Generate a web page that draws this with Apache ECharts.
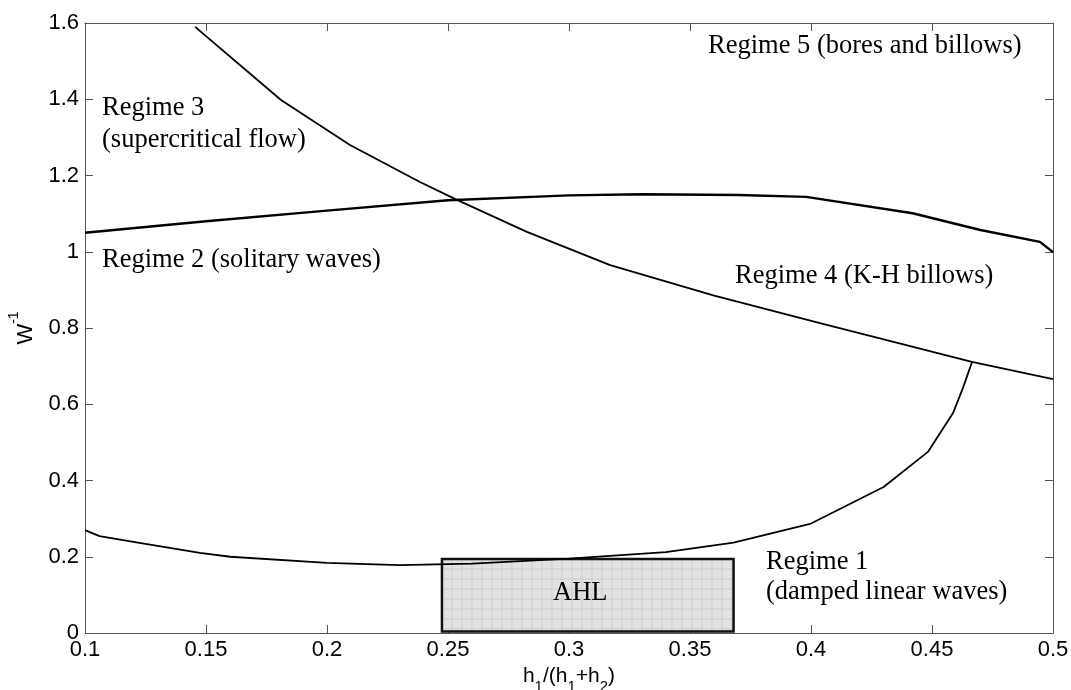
<!DOCTYPE html>
<html>
<head>
<meta charset="utf-8">
<script src="https://cdn.jsdelivr.net/npm/echarts@6/dist/echarts.min.js"></script>
<style>
  html, body { margin: 0; padding: 0; background: #fff; }
  #chart { width: 1071px; height: 690px; }
</style>
</head>
<body>
<div id="chart"></div>
<script>
// regime boundaries
const upperX = [0.1, 0.15, 0.2, 0.25, 0.3, 0.33, 0.37, 0.398, 0.442, 0.47, 0.4946, 0.5];
const upperY = [1.05, 1.08, 1.108, 1.135, 1.148, 1.151, 1.149, 1.144, 1.101, 1.057, 1.026, 0.999];

const fallX = [0.1455, 0.181, 0.2095, 0.2384, 0.2537, 0.2826, 0.317, 0.36, 0.4037, 0.4665, 0.5];
const fallY = [1.59, 1.398, 1.28, 1.183, 1.136, 1.052, 0.965, 0.885, 0.813, 0.711, 0.666];

const lowerX = [0.1, 0.106, 0.12, 0.1475, 0.16, 0.2, 0.23, 0.26, 0.3, 0.34, 0.368, 0.3996, 0.43, 0.4483, 0.4587, 0.4628, 0.4665];
const lowerY = [0.27, 0.254, 0.239, 0.21, 0.2, 0.184, 0.178, 0.182, 0.195, 0.212, 0.237, 0.286, 0.383, 0.475, 0.577, 0.643, 0.71];

// AHL box (x range, y range)
const ahlX = [0.2475, 0.368];
const ahlY = [0.004, 0.194];

const xTicks = [0.1, 0.5, 0.05];
const yTicks = [0, 1.6, 0.2];

function pairs(xs, ys) {
    return xs.map(function (x, i) { return [x, ys[i]]; });
}

const sans = 'Liberation Sans, Arial, sans-serif';
const serif = 'Liberation Serif, Times New Roman, serif';

function lineSeries(xs, ys, w) {
    return {
        type: 'line',
        data: pairs(xs, ys),
        showSymbol: false,
        symbol: 'none',
        lineStyle: { color: '#000', width: w },
        z: 5
    };
}

const chart = echarts.init(document.getElementById('chart'));

const axisCommon = {
    type: 'value',
    splitLine: { show: false },
    axisLine: { show: true, onZero: false, lineStyle: { color: '#555', width: 1 } },
    axisTick: { show: true, inside: true, length: 8, lineStyle: { color: '#555' } }
};

chart.setOption({
    animation: false,
    grid: { left: 85, right: 18, top: 23, bottom: 57, containLabel: false, outerBoundsMode: 'none' },
    xAxis: [
        Object.assign({}, axisCommon, {
            min: xTicks[0], max: xTicks[1], interval: xTicks[2],
            position: 'bottom',
            name: '{t|h}{s|1}{t|/(h}{s|1}{t|+h}{s|2}{t|)}',
            nameLocation: 'middle',
            nameGap: 30,
            nameTextStyle: {
                rich: {
                    t: { fontFamily: sans, fontSize: 21, color: '#000', lineHeight: 28, verticalAlign: 'top' },
                    s: { fontFamily: sans, fontSize: 15, color: '#000', lineHeight: 28, verticalAlign: 'bottom' }
                }
            },
            axisLabel: {
                margin: 6,
                fontFamily: sans, fontSize: 22, color: '#000',
                formatter: function (v) { return String(+v.toFixed(2)); }
            }
        }),
        Object.assign({}, axisCommon, {
            min: xTicks[0], max: xTicks[1], interval: xTicks[2],
            position: 'top',
            axisLabel: { show: false }
        })
    ],
    yAxis: [
        Object.assign({}, axisCommon, {
            min: yTicks[0], max: yTicks[1], interval: yTicks[2],
            position: 'left',
            name: '{w|W}{s|-1}',
            nameLocation: 'middle',
            nameRotate: 90,
            nameGap: 48,
            nameTextStyle: {
                rich: {
                    w: { fontFamily: sans, fontSize: 22, color: '#000', lineHeight: 30, verticalAlign: 'bottom' },
                    s: { fontFamily: sans, fontSize: 14, color: '#000', lineHeight: 30, verticalAlign: 'top' }
                }
            },
            axisLabel: {
                margin: 6,
                fontFamily: sans, fontSize: 22, color: '#000',
                formatter: function (v) { return String(+v.toFixed(1)); }
            }
        }),
        Object.assign({}, axisCommon, {
            min: yTicks[0], max: yTicks[1], interval: yTicks[2],
            position: 'right',
            axisLabel: { show: false }
        })
    ],
    series: [
        {
            type: 'custom',
            data: [[ahlX[0], ahlY[0], ahlX[1], ahlY[1]]],
            z: 2,
            renderItem: function (params, api) {
                const p0 = api.coord([api.value(0), api.value(3)]);
                const p1 = api.coord([api.value(2), api.value(1)]);
                const x = p0[0], y = p0[1], w = p1[0] - p0[0], h = p1[1] - p0[1];
                const children = [{
                    type: 'rect',
                    shape: { x: x, y: y, width: w, height: h },
                    style: { fill: '#e2e2e2', stroke: null }
                }];
                for (let gx = x + 10; gx < x + w; gx += 10) {
                    children.push({ type: 'line', shape: { x1: gx, y1: y, x2: gx, y2: y + h },
                        style: { stroke: '#cdcdcd', lineWidth: 1 } });
                }
                for (let gy = y + 10; gy < y + h; gy += 10) {
                    children.push({ type: 'line', shape: { x1: x, y1: gy, x2: x + w, y2: gy },
                        style: { stroke: '#cdcdcd', lineWidth: 1 } });
                }
                children.push({
                    type: 'rect',
                    shape: { x: x, y: y, width: w, height: h },
                    style: { fill: null, stroke: '#111', lineWidth: 2.5 }
                });
                return { type: 'group', children: children };
            }
        },
        lineSeries(upperX, upperY, 2.4),
        lineSeries(fallX, fallY, 1.8),
        lineSeries(lowerX, lowerY, 1.8)
    ],
    graphic: [
        { type: 'text', left: 708, top: 33, style: { text: 'Regime 5 (bores and billows)', font: '26.5px ' + serif, fill: '#000' } },
        { type: 'text', left: 102, top: 92, style: { text: 'Regime 3\n(supercritical flow)', font: '26.5px ' + serif, fill: '#000', lineHeight: 32 } },
        { type: 'text', left: 102, top: 247, style: { text: 'Regime 2 (solitary waves)', font: '26.5px ' + serif, fill: '#000' } },
        { type: 'text', left: 735, top: 263, style: { text: 'Regime 4 (K-H billows)', font: '26.5px ' + serif, fill: '#000' } },
        { type: 'text', left: 766, top: 547, style: { text: 'Regime 1\n(damped linear waves)', font: '26.5px ' + serif, fill: '#000', lineHeight: 30 } },
        { type: 'text', left: 553, top: 580, z: 10, style: { text: 'AHL', font: '26.5px ' + serif, fill: '#000' } }
    ]
});
</script>
</body>
</html>
